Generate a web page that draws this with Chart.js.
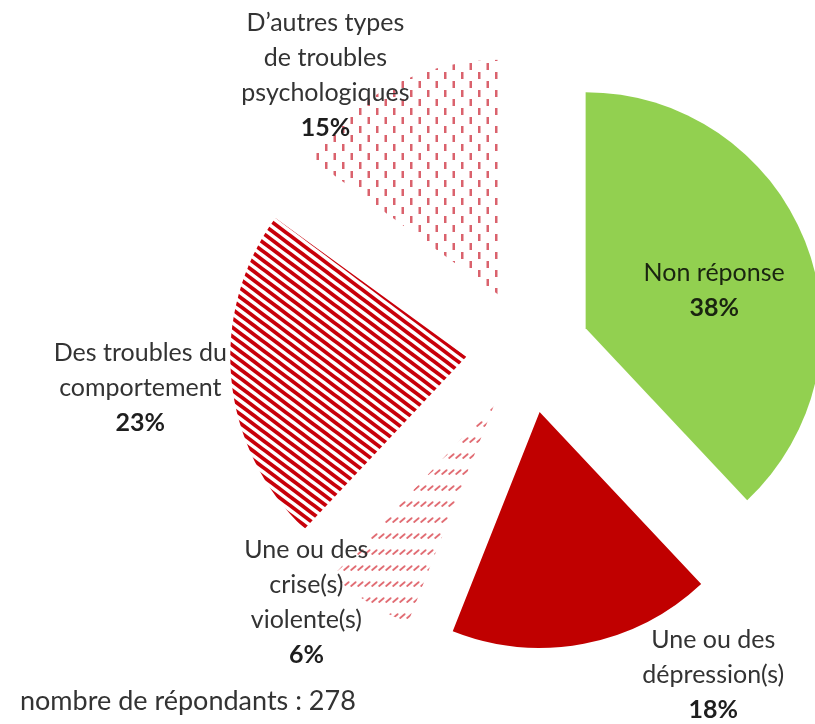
<!DOCTYPE html>
<html>
<head>
<meta charset="utf-8">
<script src="https://cdn.jsdelivr.net/npm/chart.js@4.4.0/dist/chart.umd.min.js"></script>
<style>
  html, body { margin: 0; padding: 0; background: #fff; overflow: hidden; }
  #wrap { position: relative; width: 815px; height: 724px; }
  #note { position: absolute; left: 20px; top: 683px; font: 27px Lato, sans-serif; color: #333; white-space: nowrap; }
</style>
</head>
<body>
<div id="wrap">
  <canvas id="chart" width="815" height="724"></canvas>
  <div id="note"></div>
</div>
<script>
// données
const categories = ['Non réponse', 'Une ou des dépression(s)', 'Une ou des crise(s) violente(s)', 'Des troubles du comportement', 'D\u2019autres types de troubles psychologiques'];
const percentages = [38, 18, 6, 23, 15];
const labelLines = [
    ['Non réponse'],
    ['Une ou des', 'dépression(s)'],
    ['Une ou des', 'crise(s)', 'violente(s)'],
    ['Des troubles du', 'comportement'],
    ['D\u2019autres types', 'de troubles', 'psychologiques']
];
const respondents = 278;

document.getElementById('note').textContent = 'nombre de répondants : ' + respondents;

// motifs de remplissage
function makeTile(w, h, draw) {
    let c = document.createElement('canvas');
    c.width = w; c.height = h;
    draw(c.getContext('2d'));
    return document.createElement('canvas').getContext('2d').createPattern(c, 'repeat');
}

// rayures larges (troubles du comportement)
let stripes = makeTile(24, 18, g => {
    g.strokeStyle = '#c8000a';
    g.lineWidth = 3.8;
    for (let k = -4; k <= 4; k++) {
        g.beginPath();
        g.moveTo(-4, k * 9 - 3);
        g.lineTo(28, k * 9 + 21);
        g.stroke();
    }
});

// tirets verticaux (autres troubles)
let dashesV = makeTile(17, 18, g => {
    g.fillStyle = 'rgba(205,45,60,0.75)';
    g.fillRect(2, 0, 2.5, 7);
    g.fillRect(10.5, 9, 2.5, 7);
});

// petits tirets obliques (crises violentes)
let dashesD = makeTile(7, 16, g => {
    g.strokeStyle = 'rgba(215,60,70,0.75)';
    g.lineWidth = 1.8;
    g.lineCap = 'round';
    g.beginPath();
    g.moveTo(1.2, 10);
    g.lineTo(5.6, 6.2);
    g.stroke();
});

const explodeDist = 62;

const explodePlugin = {
    id: 'explode',
    afterDatasetsUpdate(chart) {
        let area = chart.chartArea;
        let cx = (area.left + area.right) / 2;
        let cy = (area.top + area.bottom) / 2;
        chart.getDatasetMeta(0).data.forEach(arc => {
            let mid = (arc.startAngle + arc.endAngle) / 2;
            arc.x = cx + explodeDist * Math.cos(mid);
            arc.y = cy + explodeDist * Math.sin(mid);
        });
    }
};

// position des étiquettes : rayon relatif et décalage d'angle (degrés)
const labelPlace = [
    {r: 0.83, a: 3.5},
    {r: 1.58, a: -19},
    {r: 1.42, a: 9},
    {r: 1.65, a: 0},
    {r: 1.45, a: -9.3}
];

const labelPlugin = {
    id: 'pieLabels',
    afterDatasetsDraw(chart) {
        let ctx = chart.ctx;
        let area = chart.chartArea;
        let cx = (area.left + area.right) / 2;
        let cy = (area.top + area.bottom) / 2;
        let lineH = 35;
        ctx.save();
        ctx.textAlign = 'center';
        ctx.textBaseline = 'middle';
        chart.getDatasetMeta(0).data.forEach((arc, i) => {
            let p = labelPlace[i];
            let ang = (arc.startAngle + arc.endAngle) / 2 + p.a * Math.PI / 180;
            let R = arc.outerRadius * p.r;
            let x = cx + R * Math.cos(ang);
            let y = cy + R * Math.sin(ang);
            let lines = labelLines[i].concat([percentages[i] + '%']);
            let y0 = y - (lines.length - 1) * lineH / 2;
            lines.forEach((t, j) => {
                let last = j === lines.length - 1;
                ctx.font = (last ? 'bold ' : '') + '25px Lato, sans-serif';
                ctx.fillStyle = i === 0 ? '#1a2410' : (last ? '#1e1e1e' : '#333');
                ctx.fillText(t, x, y0 + j * lineH);
            });
        });
        ctx.restore();
    }
};

let ctxP = document.getElementById('chart').getContext('2d');

let myPieChart = new Chart(ctxP, {
    type: 'pie',
    plugins: [explodePlugin, labelPlugin],
    data: {
        labels: categories,
        datasets: [{
            data: percentages,
            backgroundColor: ['#92d050', '#c00000', dashesD, stripes, dashesV],
            borderWidth: 0,
            hoverOffset: 0,
            radius: 236,
            clip: false
        }]
    },
    options: {
        responsive: false,
        animation: false,
        radius: 236,
        layout: {
            padding: { left: 241, right: 0, top: 0, bottom: 22 }
        },
        plugins: {
            legend: { display: false },
            tooltip: { enabled: false }
        }
    }
});
</script>
</body>
</html>
